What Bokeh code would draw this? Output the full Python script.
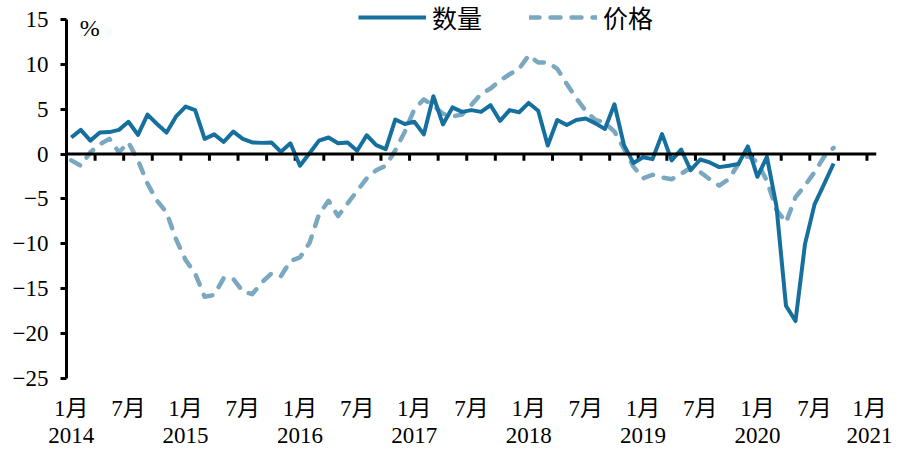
from bokeh.plotting import figure
from bokeh.models import FixedTicker, Span, Legend, LegendItem, Label, ColumnDataSource
from bokeh.embed import file_html
from bokeh.resources import INLINE

# ---- data (monthly, Jan 2014 = index 0) ----
quantity = [1.85, 2.7, 1.5, 2.4, 2.45, 2.7, 3.6, 2.15, 4.4, 3.35, 2.4, 4.2,
            5.3, 4.9, 1.7, 2.2, 1.35, 2.5, 1.7, 1.3, 1.25, 1.3, 0.25, 1.2,
            -1.3, 0.1, 1.5, 1.85, 1.2, 1.3, 0.37, 2.1, 1.0, 0.56, 3.85, 3.35,
            3.6, 2.2, 6.45, 3.3, 5.2, 4.7, 4.9, 4.7, 5.45, 3.7, 4.9, 4.66,
            5.7, 4.83, 0.95, 3.8, 3.23, 3.8, 3.97, 3.42, 2.8, 5.55, 1.0, -1.0,
            -0.35, -0.56, 2.23, -0.7, 0.5, -1.8, -0.6, -0.93, -1.45, -1.3, -1.1, 0.85,
            -2.53, -0.3, -5.8, -16.9, -18.6, -10.0, -5.6, -3.35, -1.05]
price = [-0.7, -1.3, 0.2, 1.1, 1.7, 0.2, 1.3, -0.7, -3.3, -5.2, -6.5, -9.5,
         -11.8, -13.3, -15.9, -15.7, -13.8, -13.9, -15.3, -15.6, -14.3, -13.3, -13.6, -11.9,
         -11.5, -9.9, -6.7, -5.2, -6.9, -5.5, -4.1, -2.7, -1.8, -1.3, 0.4, 2.5,
         5.0, 6.1, 5.4, 4.5, 4.2, 4.4, 5.5, 6.7, 7.3, 8.2, 8.9, 9.5,
         11.0, 10.2, 10.2, 9.5, 7.8, 6.2, 4.8, 3.8, 3.5, 2.5, 0.6, -1.4,
         -2.7, -2.3, -2.6, -2.8, -2.2, -1.5, -2.0, -2.8, -3.5, -2.8, -1.1, -0.2,
         -0.9, -3.0, -6.2, -7.6, -4.8, -3.5, -2.0, -0.3, 0.7]
months = list(range(len(quantity)))

label_pos = list(range(0, 85, 6))
month_names = ["1月", "7月"]
years = ["2014", "2015", "2016", "2017", "2018", "2019", "2020", "2021"]
y_ticks = [-25, -20, -15, -10, -5, 0, 5, 10, 15]
quarter_ticks = [2.5 + 3 * k for k in range(28)]

series_names = ["数量", "价格"]
solid_color = "#16709e"
dash_color = "#7aa8c0"

NUM_FONT = "'Liberation Serif', 'Noto Sans CJK SC'"
CJK_FONT = "'Noto Sans CJK SC'"

p = figure(frame_width=810, frame_height=377, output_backend="svg", toolbar_location=None,
           x_range=(-0.5, 84.5), y_range=(-25, 17),
           min_border_left=66, min_border_right=16, min_border_top=1, min_border_bottom=60)
p.outline_line_color = None
p.xgrid.visible = False
p.ygrid.visible = False
p.background_fill_color = "white"

# y axis
p.yaxis.ticker = FixedTicker(ticks=y_ticks)
p.yaxis.bounds = (-25, 15)
p.yaxis.axis_line_width = 3
p.yaxis.axis_line_color = "black"
p.yaxis.major_tick_line_width = 3
p.yaxis.major_tick_line_color = "black"
p.yaxis.major_tick_out = 6
p.yaxis.major_tick_in = 0
p.yaxis.minor_tick_line_color = None
p.yaxis.major_label_text_font = NUM_FONT
p.yaxis.major_label_text_font_size = "23px"
p.yaxis.major_label_text_color = "black"
p.yaxis.major_label_standoff = 12

# x axis (labels only)
overrides = {}
for i, pos in enumerate(label_pos):
    if i % 2 == 0:
        overrides[pos] = month_names[0] + "\n" + years[i // 2]
    else:
        overrides[pos] = month_names[1]
p.xaxis.ticker = FixedTicker(ticks=label_pos)
p.xaxis.major_label_overrides = overrides
p.xaxis.axis_line_color = None
p.xaxis.major_tick_line_color = None
p.xaxis.minor_tick_line_color = None
p.xaxis.major_label_text_font = NUM_FONT
p.xaxis.major_label_text_font_size = "23px"
p.xaxis.major_label_text_line_height = 1.1
p.xaxis.major_label_text_color = "black"
p.xaxis.major_label_standoff = 11

# zero line with quarter ticks
p.add_layout(Span(location=0, dimension="width", line_color="black", line_width=3))
p.segment(x0=quarter_ticks, x1=quarter_ticks, y0=[0] * len(quarter_ticks),
          y1=[-0.75] * len(quarter_ticks), line_color="black", line_width=3)

src = ColumnDataSource(dict(m=months, q=quantity, pr=price))
r_price = p.line("m", "pr", source=src, line_color=dash_color, line_width=4.5,
                 line_dash="10 11", line_cap="round", line_join="round")
r_qty = p.line("m", "q", source=src, line_color=solid_color, line_width=4,
               line_join="round")

legend = Legend(items=[LegendItem(label=series_names[0], renderers=[r_qty]),
                       LegendItem(label=series_names[1], renderers=[r_price])],
                location=(292, 343), orientation="horizontal",
                glyph_width=68, label_standoff=6, spacing=47, padding=0, margin=0,
                border_line_color=None, background_fill_alpha=0,
                label_text_font=CJK_FONT, label_text_font_size="25px",
                label_text_color="black")
p.add_layout(legend, "center")

p.add_layout(Label(x=0.9, y=14.0, text="%", text_font=NUM_FONT,
                   text_font_size="24px", text_baseline="middle", text_align="left",
                   text_color="black"))

open("out.html", "w").write(file_html(p, INLINE))
